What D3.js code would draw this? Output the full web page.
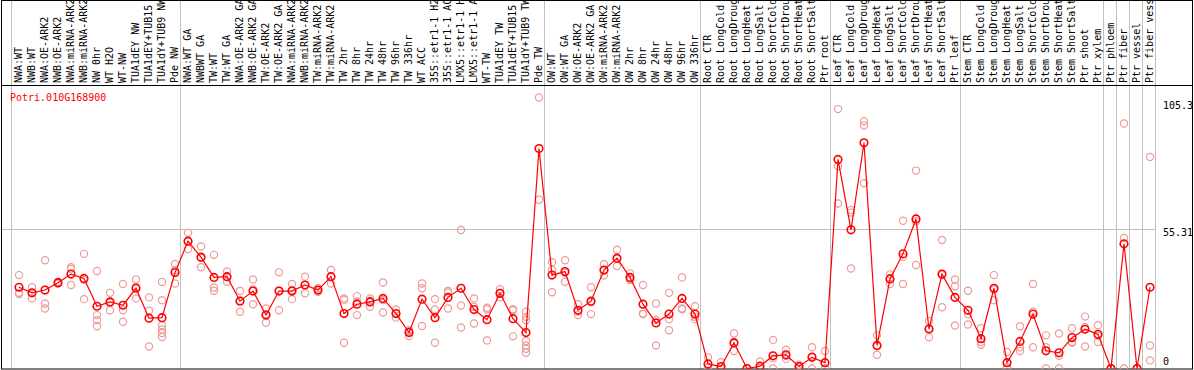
<!DOCTYPE html>
<html>
<head>
<meta charset="utf-8">
<script src="https://d3js.org/d3.v7.min.js"></script>
<style>
body { margin: 0; background: #fff; }
svg text { font-family: "DejaVu Sans Mono", monospace; font-size: 10px; }
</style>
</head>
<body>
<svg id="drawing_region"></svg>
<script>
const gene = "Potri.010G168900";

const samples = [
    "NWA:WT", "NWB:WT", "NWA:OE-ARK2", "NWB:OE-ARK2", "NWA:miRNA-ARK2", "NWB:miRNA-ARK2",
    "NW 0hr", "WT H2O", "WT-NW", "TUA1dEY NW", "TUA1dEY+TUB15 NW", "TUA1dY+TUB9 NW", "Pde NW",
    "NWA:WT GA", "NWBWT GA", "TW:WT", "TW:WT GA", "NWA:OE-ARK2 GA", "NWB:OE-ARK2 GA",
    "TW:OE-ARK2", "TW:OE-ARK2 GA", "NWA:miRNA-ARK2 GA", "NWB:miRNA-ARK2 GA", "TW:miRNA-ARK2",
    "TW:miRNA-ARK2 GA", "TW 2hr", "TW 8hr", "TW 24hr", "TW 48hr", "TW 96hr", "TW 336hr",
    "WT ACC", "35S::etr1-1 H2O", "35S::etr1-1 ACC", "LMX5::etr1-1 H2O", "LMX5::etr1-1 ACC",
    "WT-TW", "TUA1dEY TW", "TUA1dEY+TUB15 TW", "TUA1dY+TUB9 TW", "Pde TW",
    "OW:WT", "OW:WT GA", "OW:OE-ARK2", "OW:OE-ARK2 GA", "OW:miRNA-ARK2", "OW:miRNA-ARK2 GA",
    "OW 2hr", "OW 8hr", "OW 24hr", "OW 48hr", "OW 96hr", "OW 336hr",
    "Root CTR", "Root LongCold", "Root LongDrought", "Root LongHeat", "Root LongSalt",
    "Root ShortCold", "Root ShortDrought", "Root ShortHeat", "Root ShortSalt", "Ptr root",
    "Leaf CTR", "Leaf LongCold", "Leaf LongDrought", "Leaf LongHeat", "Leaf LongSalt",
    "Leaf ShortCold", "Leaf ShortDrought", "Leaf ShortHeat", "Leaf ShortSalt", "Ptr leaf",
    "Stem CTR", "Stem LongCold", "Stem LongDrought", "Stem LongHeat", "Stem LongSalt",
    "Stem ShortCold", "Stem ShortDrought", "Stem ShortHeat", "Stem ShortSalt", "Ptr shoot",
    "Ptr xylem", "Ptr phloem", "Ptr fiber", "Ptr vessel", "Ptr fiber vessel"
];

// number of samples in each block separated by a grey line
const groupSizes = [13, 28, 12, 10, 10, 11, 1, 1, 1, 1];

const means = [
    32.1, 29.9, 31.0, 33.9, 37.3, 35.6, 24.6, 26.3, 25.0, 31.7, 19.9, 20.1, 37.9,
    50.3, 44.0, 36.0, 36.3, 26.6, 30.6, 21.1, 30.6, 30.6, 33.0, 31.0, 36.3, 21.7,
    25.4, 26.3, 27.7, 21.7, 14.2, 27.4, 20.1, 28.1, 31.7, 23.3, 19.3, 29.7, 19.7, 14.2, 86.9,
    36.9, 38.3, 23.0, 26.6, 38.9, 43.6, 36.0, 25.4, 18.0, 21.5, 27.7, 21.5,
    1.8, 0.8, 10.2, 0, 0.9, 5.0, 5.4, 0.8, 4.4, 2.3,
    82.6, 54.8, 89.2, 9.1, 35.4, 45.3, 59.1, 15.6, 37.3, 28.1,
    23.0, 11.8, 31.7, 2.3, 10.7, 21.5, 7.0, 6.2, 12.2, 15.5, 13.5,
    0, 49.3, 0, 32.1
];

const replicates = [
    [36.9, 29.9, 29.4], [32.1, 29.9, 27.7], [42.8, 25.7, 23.7], [34.3, 33.9, 33.5],
    [40.0, 39.4, 33.0], [45.3, 35.0, 27.4], [38.5, 21.1, 19.1, 16.7], [29.9, 26.0, 23.0],
    [33.4, 23.0, 18.5], [35.2, 32.2, 27.7], [28.1, 22.8, 8.7],
    [34.2, 27.0, 17.1, 15.4, 14.0, 12.4], [41.3, 38.8, 33.6],
    [53.6, 50.1, 47.2], [48.2, 43.8, 40.0], [44.9, 32.0, 30.7], [38.3, 36.3, 34.3],
    [30.6, 26.8, 22.4], [35.2, 31.2, 25.4], [23.7, 21.4, 18.2], [38.0, 30.8, 23.0],
    [33.4, 31.0, 27.4], [36.3, 33.0, 29.7], [31.7, 31.0, 30.3], [38.9, 36.4, 33.6],
    [27.7, 27.2, 10.2], [28.6, 26.5, 21.1], [27.7, 26.8, 24.4], [34.0, 27.0, 22.1],
    [23.3, 21.7, 20.1], [15.1, 14.7, 12.8], [33.6, 31.7, 16.8], [27.4, 23.3, 10.2],
    [30.6, 30.0, 23.7], [54.7, 24.9, 16.2], [27.7, 24.4, 17.8], [24.0, 23.4, 11.1],
    [31.3, 29.7, 28.1], [23.0, 23.4, 12.7], [22.4, 20.4, 19.1, 10.9, 9.1, 7.8, 6.2],
    [107.1, 66.7],
    [42.0, 38.9, 30.1], [42.8, 37.8, 34.3], [25.4, 22.5, 21.1], [32.1, 26.2, 21.5],
    [41.2, 38.8, 36.7], [46.9, 43.4, 40.5], [37.6, 35.4, 35.0], [33.0, 21.7, 21.5],
    [25.7, 19.2, 9.1], [29.9, 19.5, 15.1], [36.0, 23.7, 23.4], [24.6, 20.4, 19.5],
    [4.4, 0.5, 0.5], [2.5, 0, 0], [13.8, 9.9, 6.9], [0, 0, 0], [2.8, 0, 0],
    [11.3, 4.0, 0], [7.4, 5.0, 3.8], [1.5, 0.8, 0], [8.4, 4.8, 0], [6.9, 0, 0],
    [102.5, 80.0, 65.2], [62.6, 61.6, 39.5], [97.7, 96.0, 73.2], [13.1, 8.8, 5.4],
    [37.2, 35.6, 33.4], [58.4, 44.1, 33.4], [78.2, 58.2, 40.9], [18.8, 15.7, 12.3],
    [50.8, 36.9, 24.2], [35.2, 32.5, 17.0],
    [30.7, 21.5, 17.4], [15.9, 10.5, 9.4], [36.9, 31.2, 27.0], [6.5, 0.4, 0],
    [16.7, 8.4, 6.9], [33.4, 22.4, 8.4], [13.1, 8.4, 0], [13.8, 5.0, 0],
    [15.9, 10.5, 10.2], [20.5, 16.3, 8.7], [17.1, 12.9, 10.5],
    [0, 0, 0], [96.8, 51.6, 0], [0, 0, 0], [83.6, 9.1, 3.2]
];

const yTicks = [0, 55.31, 105.3];
const yGrid = [55.31];

class ExpressionPlot {

    constructor( config ) {
        this.config = config;
        this.init();
    }

    init() {
        let self = this;
        const c = self.config;

        self.svg = d3.select( c.parent )
            .attr('width', c.width)
            .attr('height', c.height);

        self.xscale = d3.scaleBand()
            .domain( samples )
            .range( [c.plot.left, c.plot.right] );

        self.yscale = d3.scaleLinear()
            .domain( [0, 105.3] )
            .range( [368.5, 102] );

        self.svg.append('clipPath')
            .attr('id', 'plot_clip')
            .append('rect')
            .attr('x', 2)
            .attr('y', c.header)
            .attr('width', c.width - 4)
            .attr('height', c.bottom - c.header);
    }

    render() {
        let self = this;
        const c = self.config;
        const cx = d => self.xscale( d ) + 8;

        // group separators
        let starts = [];
        let k = 0;
        groupSizes.forEach( n => { starts.push( self.xscale( samples[k] ) ); k += n; });
        starts.push( self.xscale.range()[1] );

        self.svg.append('g')
            .selectAll('line')
            .data( starts )
            .join('line')
            .attr('x1', d => d + 0.5).attr('x2', d => d + 0.5)
            .attr('y1', 0).attr('y2', c.bottom)
            .attr('stroke', '#c0c0c0');

        self.svg.append('g')
            .selectAll('line')
            .data( yGrid )
            .join('line')
            .attr('x1', 2).attr('x2', c.plot.right)
            .attr('y1', d => Math.round( self.yscale( d ) ) + 0.5)
            .attr('y2', d => Math.round( self.yscale( d ) ) + 0.5)
            .attr('stroke', '#c0c0c0');

        // sample names
        self.svg.append('g')
            .selectAll('text')
            .data( samples )
            .join('text')
            .attr('transform', d => `translate(${self.xscale( d ) + 10.5}, 83) rotate(-90)`)
            .attr('fill', 'black')
            .text( d => d );

        // frame
        self.svg.append('rect')
            .attr('x', 1.5).attr('y', 0.5)
            .attr('width', c.width - 3).attr('height', c.bottom - 0.5)
            .attr('fill', 'none')
            .attr('stroke', 'black');

        self.svg.append('line')
            .attr('x1', 1.5).attr('x2', c.width - 1.5)
            .attr('y1', c.header - 0.5).attr('y2', c.header - 0.5)
            .attr('stroke', 'black');

        // value labels on the right
        self.svg.append('g')
            .selectAll('text')
            .data( yTicks )
            .join('text')
            .attr('x', c.plot.right + 8)
            .attr('y', d => Math.min( self.yscale( d ) + 7, c.bottom - 4 ))
            .attr('fill', 'black')
            .text( d => d );

        self.svg.append('text')
            .attr('x', 10)
            .attr('y', 100.5)
            .attr('fill', 'red')
            .text( gene );

        const plot = self.svg.append('g')
            .attr('clip-path', 'url(#plot_clip)');

        const points = [];
        replicates.forEach( (r, i) => r.forEach( v => points.push( {s: samples[i], v: v} ) ) );

        plot.selectAll('circle.rep')
            .data( points )
            .join('circle')
            .attr('class', 'rep')
            .attr('cx', d => cx( d.s ))
            .attr('cy', d => self.yscale( d.v ))
            .attr('r', 3.6)
            .attr('fill', 'none')
            .attr('stroke', '#ee9a9a')
            .attr('stroke-width', 1.2);

        const line = d3.line()
            .x( (d, i) => cx( samples[i] ) )
            .y( d => self.yscale( d ) );

        plot.append('path')
            .datum( means )
            .attr('d', line)
            .attr('fill', 'none')
            .attr('stroke', 'red')
            .attr('stroke-width', 1.2);

        plot.selectAll('circle.mean')
            .data( means )
            .join('circle')
            .attr('class', 'mean')
            .attr('cx', (d, i) => cx( samples[i] ))
            .attr('cy', d => self.yscale( d ))
            .attr('r', 3.8)
            .attr('fill', 'none')
            .attr('stroke', 'red')
            .attr('stroke-width', 1.6);
    }
}

const plot = new ExpressionPlot({
    parent: '#drawing_region',
    width: 1194,
    height: 370,
    header: 86,
    bottom: 369,
    plot: {left: 11, right: 1155}
});
plot.render();
</script>
</body>
</html>
